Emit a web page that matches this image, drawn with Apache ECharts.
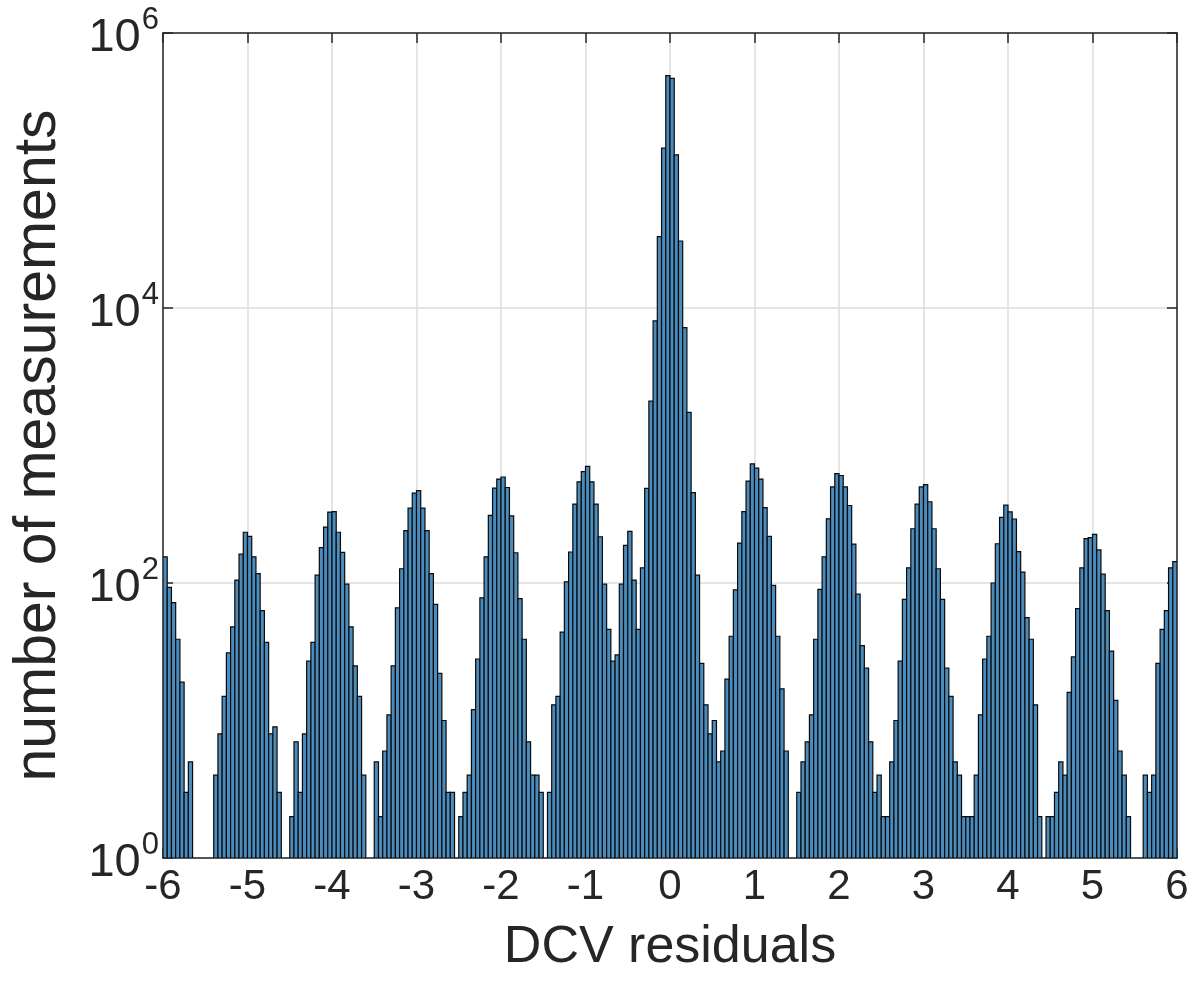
<!DOCTYPE html>
<html><head><meta charset="utf-8">
<script src="https://cdn.jsdelivr.net/npm/echarts@6/dist/echarts.min.js"></script>
<style>html,body{margin:0;padding:0;background:#fff}#c{width:1198px;height:992px}</style>
</head><body><div id="c"></div>
<script>
// Histogram bins: 240 bins of width 0.05 from -6 to 6
const binStart = -6;
const binWidth = 0.05;
// counts per bin (0 = empty bin)
const counts = [
  155, 93, 72, 39, 19, 3, 5,
  0, 0, 0, 0, 0,
  4, 8, 15, 31, 48, 105, 162, 234, 218, 155, 117, 63, 37, 8, 9, 3,
  0, 0,
  2, 7, 3, 8, 27, 37, 114, 181, 255, 328, 330,
  234, 167, 98, 48, 25, 15, 4,
  0, 0,
  5, 2, 6, 11, 25, 66, 127, 240, 350, 450, 470, 350, 240, 117, 70, 22, 10, 3, 3,
  0,
  2, 3, 4, 12, 28, 78, 155, 310, 490, 570, 590,
  495, 308, 166, 77, 39, 7, 4, 4, 3,
  0,
  3, 13, 15, 44, 102, 168, 375, 544, 646, 706, 544, 375, 217, 98, 46, 27, 30, 98, 188, 237,
  105, 46, 129, 488, 2100, 8060, 33000, 145600, 490000, 468000,
  130000, 30700, 7200, 1740, 454, 114, 26, 13, 8, 10, 5, 6, 20, 41, 89, 195, 330, 551, 735, 685,
  570, 353, 218, 96, 41, 17, 6,
  0, 0,
  3, 5, 7, 11, 39, 90, 155, 293, 500, 624, 605, 500, 366, 192, 83, 35, 24, 7, 3, 4,
  2, 2, 5, 10, 27, 76, 129, 248, 375, 500, 520, 390, 248, 127, 76, 24,
  15, 5, 4, 2, 2, 2, 4, 11, 28, 41, 100, 193, 300, 368,
  329, 292, 169, 120, 56, 39, 13, 2,
  0,
  2, 2, 3, 5, 4, 16, 29, 65, 129, 210, 214, 226, 174, 116, 63, 32, 14, 6, 4, 2,
  0, 0, 0,
  4, 3, 4, 26, 46, 63, 129, 143
];
const xTickValues = [-6, -5, -4, -3, -2, -1, 0, 1, 2, 3, 4, 5, 6];
const yTickExponents = [0, 2, 4, 6];
const xTitle = 'DCV residuals';
const yTitle = 'number of measurements';

const data = [];
counts.forEach((c, i) => {
  if (c > 0) data.push([binStart + i * binWidth, binStart + (i + 1) * binWidth, c]);
});

const FONT = 'Liberation Sans, Arial, Helvetica, sans-serif';
const TXT = '#262626';
const chart = echarts.init(document.getElementById('c'), null, {renderer: 'canvas'});
const tickLen = 10;
chart.setOption({
  animation: false,
  backgroundColor: '#ffffff',
  grid: {left: 163, right: 21, top: 33, bottom: 134, show: false, containLabel: false, outerBoundsMode: 'none'},
  xAxis: [{
    type: 'value', min: xTickValues[0], max: xTickValues[xTickValues.length - 1], interval: 1,
    position: 'bottom',
    axisLine: {show: true, onZero: false, lineStyle: {color: TXT, width: 1.5}},
    axisTick: {show: true, inside: true, length: tickLen, lineStyle: {color: TXT, width: 1.5}},
    axisLabel: {fontFamily: FONT, fontSize: 42, color: TXT, margin: 8},
    splitLine: {show: true, lineStyle: {color: '#dcdcdc', width: 1.5}},
    name: xTitle, nameLocation: 'middle', nameGap: 64,
    nameTextStyle: {fontFamily: FONT, fontSize: 52, color: TXT}
  }, {
    type: 'value', min: xTickValues[0], max: xTickValues[xTickValues.length - 1], interval: 1,
    position: 'top',
    axisLine: {show: true, onZero: false, lineStyle: {color: TXT, width: 1.5}},
    axisTick: {show: true, inside: true, length: tickLen, lineStyle: {color: TXT, width: 1.5}},
    axisLabel: {show: false}, splitLine: {show: false}
  }],
  yAxis: [{
    type: 'log', logBase: 100, min: Math.pow(10, yTickExponents[0]), max: Math.pow(10, yTickExponents[yTickExponents.length - 1]),
    position: 'left',
    axisLine: {show: true, onZero: false, lineStyle: {color: TXT, width: 1.5}},
    axisTick: {show: true, inside: true, length: tickLen, lineStyle: {color: TXT, width: 1.5}},
    minorTick: {show: false},
    axisLabel: {
      margin: 4,
      formatter: v => '{b|10}{s|' + Math.round(Math.log10(v)) + '}',
      rich: {
        b: {fontFamily: FONT, fontSize: 47, color: TXT, verticalAlign: 'bottom'},
        s: {fontFamily: FONT, fontSize: 31, color: TXT, verticalAlign: 'bottom', padding: [0, 0, 26, 1]}
      }
    },
    splitLine: {show: true, lineStyle: {color: '#dcdcdc', width: 1.5}},
    name: yTitle, nameLocation: 'middle', nameGap: 95, nameRotate: 90,
    nameTextStyle: {fontFamily: FONT, fontSize: 59, color: TXT}
  }, {
    type: 'log', logBase: 100, min: 1, max: 1e6, position: 'right',
    axisLine: {show: true, onZero: false, lineStyle: {color: TXT, width: 1.5}},
    axisTick: {show: true, inside: true, length: tickLen, lineStyle: {color: TXT, width: 1.5}},
    axisLabel: {show: false}, splitLine: {show: false}
  }],
  series: [{
    type: 'custom',
    xAxisIndex: 0, yAxisIndex: 0,
    clip: true,
    encode: {x: [0, 1], y: 2},
    data: data,
    renderItem: function (params, api) {
      const p0 = api.coord([api.value(0), api.value(2)]);
      const p1 = api.coord([api.value(1), 1]);
      return {
        type: 'rect',
        shape: {x: p0[0], y: p0[1], width: p1[0] - p0[0], height: p1[1] - p0[1]},
        style: {fill: '#4a8cbd', stroke: '#0a0a0a', lineWidth: 1.2}
      };
    }
  }]
});
</script></body></html>
